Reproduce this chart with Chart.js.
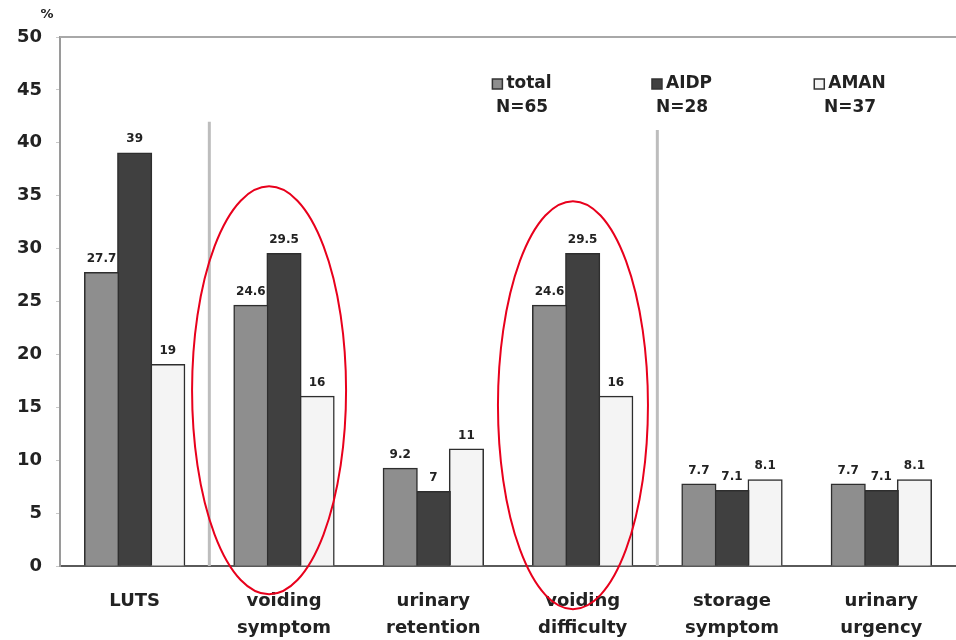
<!DOCTYPE html>
<html>
<head>
<meta charset="utf-8">
<script src="https://cdn.jsdelivr.net/npm/chart.js@4/dist/chart.umd.min.js"></script>
<style>
  html, body { margin: 0; padding: 0; background: #fff; }
  canvas { display: block; }
</style>
</head>
<body>
<canvas id="c" width="956" height="640"></canvas>
<script>
// Categories along the x axis (multi-line labels)
const categories = [
  ['LUTS'],
  ['voiding', 'symptom'],
  ['urinary', 'retention'],
  ['voiding', 'difficulty'],
  ['storage', 'symptom'],
  ['urinary', 'urgency']
];

// Percentages per group
const totalValues = [27.7, 24.6, 9.2, 24.6, 7.7, 7.7];
const aidpValues  = [39, 29.5, 7, 29.5, 7.1, 7.1];
const amanValues  = [19, 16, 11, 16, 8.1, 8.1];

// Legend text: series name and sample size
const seriesNames = ['total', 'AIDP', 'AMAN'];
const sampleSizes = ['N=65', 'N=28', 'N=37'];

// Y axis ticks
const yTicks = [0, 5, 10, 15, 20, 25, 30, 35, 40, 45, 50];

const FONT = '"DejaVu Sans", "Liberation Sans", sans-serif';

// Values printed above each bar
const barValueLabels = {
  id: 'barValueLabels',
  afterDatasetsDraw(chart) {
    const ctx = chart.ctx;
    ctx.save();
    ctx.font = 'bold 12px ' + FONT;
    ctx.fillStyle = '#222';
    ctx.textAlign = 'center';
    ctx.textBaseline = 'alphabetic';
    chart.data.datasets.forEach((ds, di) => {
      const meta = chart.getDatasetMeta(di);
      meta.data.forEach((bar, i) => {
        ctx.fillText(String(ds.data[i]), bar.x, bar.y - 11);
      });
    });
    ctx.restore();
  }
};

// Frame pieces: top border, group separators, unit label
const frameDecor = {
  id: 'frameDecor',
  beforeDatasetsDraw(chart) {
    const { ctx, chartArea } = chart;
    const x = chart.scales.x, y = chart.scales.y;
    ctx.save();
    // top border
    ctx.strokeStyle = '#a8a8a8';
    ctx.lineWidth = 2;
    ctx.beginPath();
    ctx.moveTo(chartArea.left, chartArea.top);
    ctx.lineTo(chart.width, chartArea.top);
    ctx.stroke();
    // separators between group blocks
    ctx.strokeStyle = '#bdbdbd';
    ctx.lineWidth = 3;
    [[0, 42], [3, 41.2]].forEach(([idx, topVal]) => {
      const px = (x.getPixelForValue(idx) + x.getPixelForValue(idx + 1)) / 2;
      ctx.beginPath();
      ctx.moveTo(px, y.getPixelForValue(topVal));
      ctx.lineTo(px, chartArea.bottom);
      ctx.stroke();
    });
    ctx.restore();
  },
  afterDraw(chart) {
    const { ctx, chartArea } = chart;
    ctx.save();
    ctx.font = 'bold 13px ' + FONT;
    ctx.fillStyle = '#222';
    ctx.textAlign = 'center';
    ctx.textBaseline = 'middle';
    ctx.fillText('%', chartArea.left - 13, 15);
    ctx.restore();
  }
};

// Legend drawn inside the plot: marker + name, sample size underneath
const innerLegend = {
  id: 'innerLegend',
  afterDraw(chart) {
    const ctx = chart.ctx;
    const centers = [522, 682, 850];
    ctx.save();
    ctx.font = 'bold 17px ' + FONT;
    ctx.textBaseline = 'middle';
    chart.data.datasets.forEach((ds, i) => {
      const cx = centers[i];
      const name = seriesNames[i];
      const tw = ctx.measureText(name).width;
      const box = 10, gap = 4;
      const left = cx - (box + gap + tw) / 2;
      ctx.fillStyle = ds.backgroundColor;
      ctx.fillRect(left, 79, box, box);
      ctx.strokeStyle = '#333';
      ctx.lineWidth = 1.5;
      ctx.strokeRect(left, 79, box, box);
      ctx.fillStyle = '#222';
      ctx.textAlign = 'left';
      ctx.fillText(name, left + box + gap, 84);
      ctx.textAlign = 'center';
      ctx.fillText(sampleSizes[i], cx, 108);
    });
    ctx.restore();
  }
};

// Red ellipses highlighting two groups
const highlightEllipses = {
  id: 'highlightEllipses',
  afterDraw(chart) {
    const { ctx } = chart;
    const x = chart.scales.x, y = chart.scales.y;
    const catW = x.getPixelForValue(1) - x.getPixelForValue(0);
    const marks = [
      { idx: 1, dx: -0.10, cy: 16.6, rx: 77, ry: 204 },
      { idx: 3, dx: -0.065, cy: 15.2, rx: 75, ry: 204 }
    ];
    ctx.save();
    ctx.strokeStyle = '#e8001c';
    ctx.lineWidth = 2;
    marks.forEach(m => {
      const px = x.getPixelForValue(m.idx) + m.dx * catW;
      const py = y.getPixelForValue(m.cy);
      ctx.beginPath();
      ctx.ellipse(px, py, m.rx, m.ry, 0, 0, Math.PI * 2);
      ctx.stroke();
    });
    ctx.restore();
  }
};

const barStyle = {
  borderColor: '#2e2e2e',
  borderWidth: 1.5,
  borderSkipped: 'bottom',
  inflateAmount: 1,
  categoryPercentage: 0.665,
  barPercentage: 1.0
};

new Chart(document.getElementById('c'), {
  type: 'bar',
  data: {
    labels: categories,
    datasets: [
      Object.assign({ label: seriesNames[0], data: totalValues, backgroundColor: '#8e8e8e' }, barStyle),
      Object.assign({ label: seriesNames[1], data: aidpValues,  backgroundColor: '#404040' }, barStyle),
      Object.assign({ label: seriesNames[2], data: amanValues,  backgroundColor: '#f4f4f4' }, barStyle)
    ]
  },
  options: {
    responsive: false,
    devicePixelRatio: 1,
    animation: false,
    layout: { padding: { top: 37, right: 0, left: 0, bottom: 0 } },
    plugins: {
      legend: { display: false },
      tooltip: { enabled: false }
    },
    scales: {
      x: {
        grid: { display: false },
        border: { display: true, color: '#5a5a5a', width: 2 },
        ticks: {
          color: '#222',
          font: { family: FONT, size: 18, weight: 'bold', lineHeight: 1.5 },
          padding: 14,
          maxRotation: 0,
          autoSkip: false
        },
        afterFit(scale) { scale.height = 74; }
      },
      y: {
        min: 0,
        max: 50,
        afterBuildTicks(scale) { scale.ticks = yTicks.map(v => ({ value: v })); },
        grid: { display: true, drawOnChartArea: false, drawTicks: true, tickLength: 4, color: '#c8c8c8' },
        border: { display: true, color: '#9a9a9a', width: 2 },
        ticks: {
          color: '#222',
          font: { family: FONT, size: 18, weight: 'bold' },
          padding: 14
        },
        afterFit(scale) { scale.width = 60; }
      }
    }
  },
  plugins: [frameDecor, barValueLabels, highlightEllipses, innerLegend]
});
</script>
</body>
</html>
